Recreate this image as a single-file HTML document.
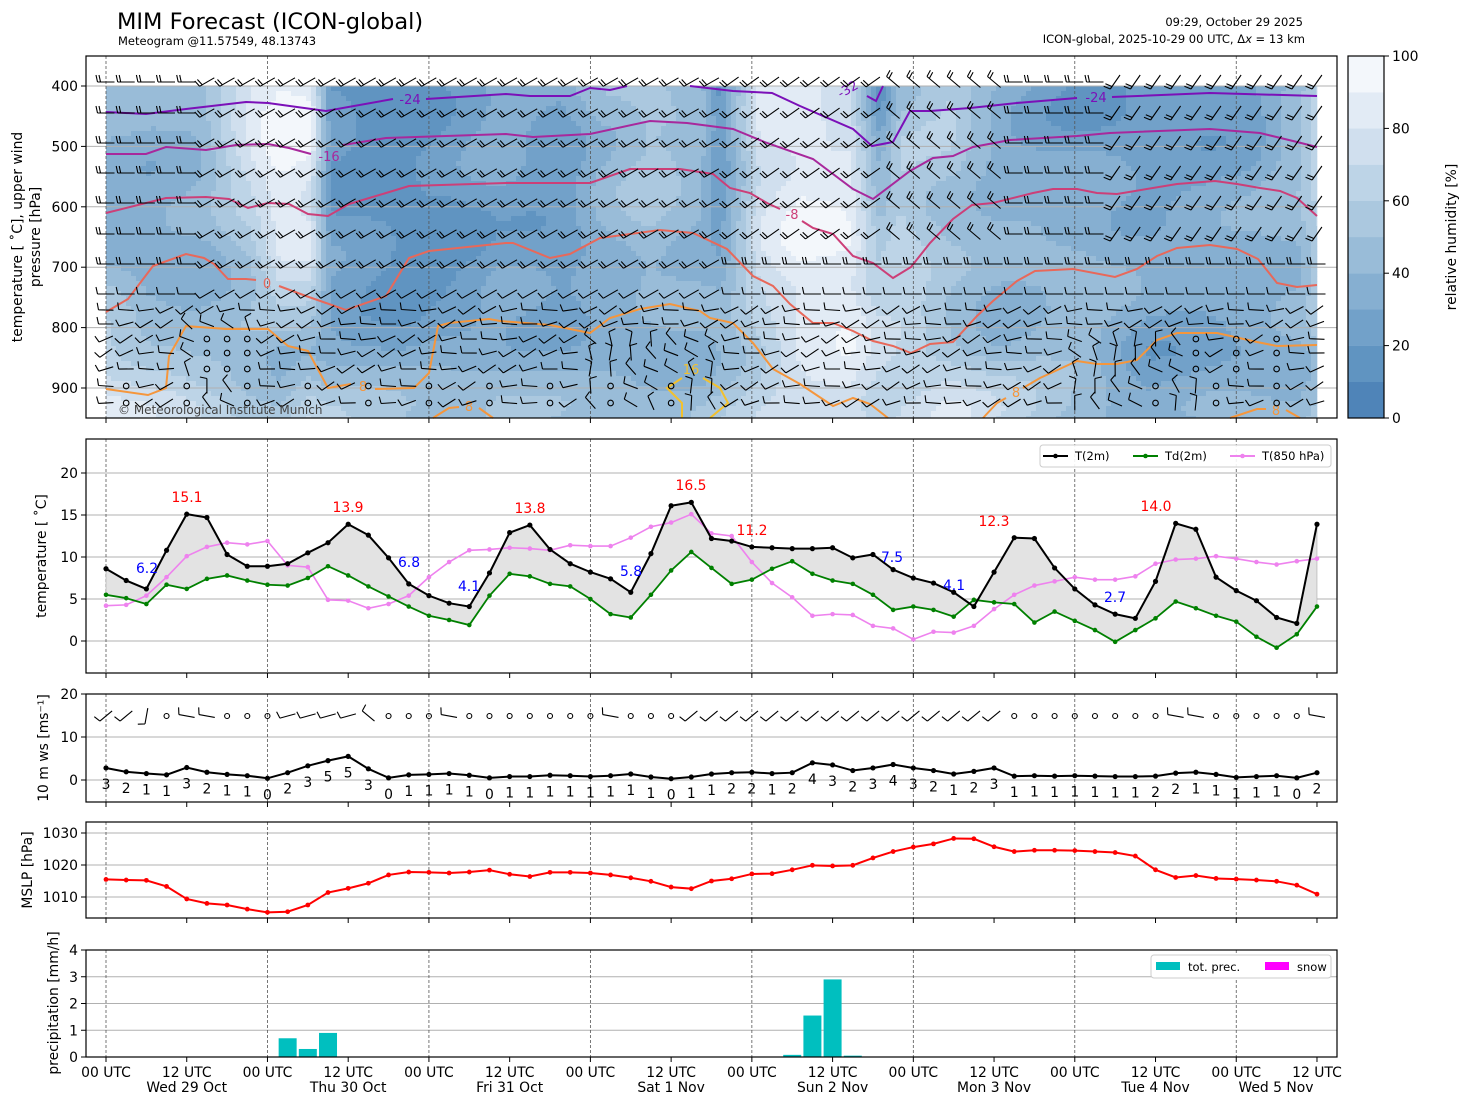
<!DOCTYPE html>
<html><head><meta charset="utf-8">
<style>
html,body{margin:0;padding:0;background:#fff;}
svg{display:block;font-family:"DejaVu Sans","Liberation Sans",sans-serif;}
</style></head>
<body>
<svg id="s" width="1469" height="1105" xmlns="http://www.w3.org/2000/svg">
<rect width="1469" height="1105" fill="#fff"/>
<g id="rh"></g>
<g id="g"></g>
<text x="117" y="29" font-size="22.5">MIM Forecast (ICON-global)</text>
<text x="118" y="45" font-size="11.5">Meteogram @11.57549, 48.13743</text>
<text x="1303" y="26" font-size="11.5" text-anchor="end">09:29, October 29 2025</text>
<text x="1305" y="43" font-size="11.5" text-anchor="end">ICON-global, 2025-10-29 00 UTC, Δ<tspan font-style="italic">x</tspan> = 13 km</text>
</svg>
<script>
var NS="http://www.w3.org/2000/svg";
var G=document.getElementById('g'),RH=document.getElementById('rh');
function el(t,a,p){var e=document.createElementNS(NS,t);for(var k in a)e.setAttribute(k,a[k]);(p||G).appendChild(e);return e;}
function txt(x,y,s,a){a=a||{};a.x=x;a.y=y;var e=el('text',a);e.textContent=s;return e;}
function X(i){return 106+i*20.183;}
var X0=86,X1=1337;
var lev=['#4f84b8','#6094c1','#72a1c9','#86afd1','#99bcd8','#abc8df','#bdd4e7','#d0dfee','#e2ebf5','#f3f7fb'];
var K=[[106,40,35,70,80],[150,40,30,55,75],[200,45,35,45,70],[250,85,55,40,60],[280,95,85,35,55],[310,90,80,40,70],[330,20,25,35,60],[400,15,15,25,55],[450,25,15,30,50],[500,35,25,35,55],[560,25,20,35,45],[600,45,35,35,40],[650,55,50,30,45],[700,45,40,35,50],[720,15,30,45,55],[760,80,75,60,65],[800,85,92,80,75],[850,75,90,85,80],[880,20,60,70,70],[900,50,70,65,75],[950,60,45,55,85],[1000,35,40,40,70],[1080,20,45,45,50],[1150,20,35,25,30],[1250,25,40,30,40],[1300,50,45,35,45],[1317,65,60,45,55]];
function colAt(x){for(var i=0;i<K.length-1;i++){if(x<=K[i+1][0]){var t=(x-K[i][0])/(K[i+1][0]-K[i][0]);return [1,2,3,4].map(function(j){return K[i][j]*(1-t)+K[i+1][j]*t;});}}return K[K.length-1].slice(1);}
function py(p){return 86+(p-400)*0.604;}
var C=5;
for(var x=106;x<1317;x+=C){
  var c=colAt(x+C/2);
  for(var y=86;y<418;y+=C){
    var p=400+(y+C/2-86)/0.604,v;
    if(p<=450)v=c[0];else if(p<=675)v=c[0]+(c[1]-c[0])*(p-450)/225;else if(p<=840)v=c[1]+(c[2]-c[1])*(p-675)/165;else if(p<=930)v=c[2]+(c[3]-c[2])*(p-840)/90;else v=c[3];
    v+=4*Math.sin(x*0.03+y*0.04)+3*Math.sin(x*0.011-y*0.06);
    var q=Math.max(0,Math.min(9,Math.floor(v/10)));
    el('rect',{x:x,y:y,width:Math.min(C,1317-x)+0.3,height:Math.min(C,418-y)+0.3,fill:lev[q]},RH);
  }
}
function frame(y0,y1){el('rect',{x:X0,y:y0,width:X1-X0,height:y1-y0,fill:'none',stroke:'#000','stroke-width':1.2});
 for(var i=0;i<=15;i++){el('line',{x1:X(i*4),x2:X(i*4),y1:y1,y2:y1+5,stroke:'#000'});}}
function hgrid(y){el('line',{x1:X0,x2:X1,y1:y,y2:y,stroke:'#b0b0b0','stroke-width':1});}
function vgrid(y0,y1){for(var d=0;d<8;d++){el('line',{x1:X(d*8),x2:X(d*8),y1:y0,y2:y1,stroke:'#555','stroke-width':0.8,'stroke-dasharray':'3,2'});}}
function ytick(y,s){el('line',{x1:X0-5,x2:X0,y1:y,y2:y,stroke:'#000'});txt(X0-8,y+5,s,{'font-size':13.9,'text-anchor':'end'});}
[400,500,600,700,800,900].forEach(function(p){hgrid(py(p));ytick(py(p),''+p);});
vgrid(56,418);
function pl(pts,col,w){el('polyline',{points:pts.map(function(a){return a.join(',')}).join(' '),fill:'none',stroke:col,'stroke-width':w||2});}
var PUR='#7b10b8',MAG='#a8289c',PNK='#cc3f78',SAL='#e8685a',ORG='#f5963c',YEL='#f2c12e';
pl([[106,112],[146,114],[186,109],[246,102],[268,103],[326,111],[393,99]],PUR);
pl([[426,99],[506,94],[530,96],[570,96],[590,88],[610,90],[627,86]],PUR);
pl([[690,86],[733,91],[772,93],[800,106],[853,129],[872,146],[893,142],[910,111],[930,111],[970,108],[1017,103],[1077,98]],PUR);
pl([[1112,97],[1210,93],[1317,96]],PUR);
pl([[867,96],[876,101],[883,86]],PUR);
txt(410,104,'-24',{'font-size':13,fill:PUR,'text-anchor':'middle'});
txt(1096,102,'-24',{'font-size':13,fill:PUR,'text-anchor':'middle'});
txt(850,93,'-32',{'font-size':13,fill:PUR,'text-anchor':'middle',transform:'rotate(-30 850 93)'});
pl([[106,154],[146,154],[166,147],[206,150],[236,145],[268,144],[289,148],[311,154]],MAG);
pl([[343,145],[386,138],[506,134],[533,137],[590,134],[650,121],[687,123],[733,129],[767,143],[813,159],[853,189],[873,199],[910,171],[933,158],[953,156],[973,147],[1010,140],[1077,136],[1110,133],[1210,129],[1260,133],[1293,141],[1317,147]],MAG);
txt(329,161,'-16',{'font-size':13,fill:MAG,'text-anchor':'middle'});
pl([[106,213],[166,198],[206,197],[229,199],[248,208],[268,203],[289,204],[308,214],[328,216],[349,204],[386,193],[409,186],[506,183],[590,183],[630,169],[680,169],[713,174],[730,188],[750,193],[767,203],[780,209]],PNK);
pl([[802,221],[813,228],[833,234],[853,256],[873,263],[893,278],[911,267],[930,243],[953,219],[972,205],[993,203],[1033,193],[1053,189],[1077,189],[1097,193],[1117,194],[1177,184],[1215,181],[1237,184],[1260,188],[1280,191],[1297,198],[1317,216]],PNK);
txt(792,219,'-8',{'font-size':13,fill:PNK,'text-anchor':'middle'});
pl([[106,312],[128,299],[153,266],[186,254],[204,258],[214,264],[228,279],[246,279],[256,280]],SAL);
pl([[279,286],[306,296],[346,310],[386,296],[409,258],[429,251],[506,243],[513,243],[550,258],[570,254],[600,238],[660,230],[693,233],[727,249],[753,276],[773,286],[790,304],[813,323],[833,323],[853,331],[873,341],[893,346],[911,353],[930,344],[953,342],[977,316],[993,301],[1017,281],[1035,271],[1073,269],[1115,277],[1137,269],[1157,256],[1177,248],[1210,245],[1237,249],[1258,259],[1277,283],[1297,287],[1317,285]],SAL);
txt(267,288,'0',{'font-size':13,fill:SAL,'text-anchor':'middle'});
pl([[106,389],[148,395],[166,388],[169,356],[186,326],[226,329],[268,329],[288,346],[308,351],[328,388],[351,384]],ORG);
pl([[375,389],[414,388],[429,373],[438,326],[449,323],[489,319],[500,321],[550,325],[590,333],[610,318],[640,309],[670,304],[700,311],[710,318],[733,323],[753,343],[773,369],[800,384],[833,406],[853,398],[870,404],[888,418]],ORG);
txt(363,391,'8',{'font-size':13,fill:ORG,'text-anchor':'middle'});
pl([[433,418],[449,408],[459,407]],ORG);pl([[479,408],[493,418]],ORG);
txt(469,411,'8',{'font-size':13,fill:ORG,'text-anchor':'middle'});
pl([[983,418],[997,403],[1006,398]],ORG);
pl([[1023,388],[1040,378],[1077,361],[1097,364],[1117,364],[1137,360],[1157,340],[1177,333],[1217,333],[1257,342],[1277,346],[1317,345]],ORG);
txt(1016,397,'8',{'font-size':13,fill:ORG,'text-anchor':'middle'});
pl([[1230,418],[1257,409],[1266,409]],ORG);pl([[1286,410],[1300,418]],ORG);
txt(1276,415,'8',{'font-size':13,fill:ORG,'text-anchor':'middle'});
pl([[682,378],[667,388],[682,403],[682,418]],YEL);pl([[703,378],[720,388],[728,403],[710,418]],YEL);
txt(691,374,'16',{'font-size':13,fill:YEL,'text-anchor':'middle'});
// barbs: station at (x,y); tail upwind; feathers at tail
function barb(x,y,a,n,len,pr){pr=pr||G;len=len||15;var r=a*Math.PI/180;var dx=-Math.cos(r),dy=Math.sin(r);
 var sx=x+dx*len*0.5,sy=y+dy*len*0.5,ex=x-dx*len*0.5,ey=y-dy*len*0.5;
 var d='M'+ex.toFixed(1)+','+ey.toFixed(1)+'L'+sx.toFixed(1)+','+sy.toFixed(1);
 var px=-dy,py_=dx; if(py_>0||(py_==0&&px>0)){px=-px;py_=-py_;}
 for(var k=0;k<n;k++){var bx=sx-dx*k*3,by=sy-dy*k*3;var fl=7;
  d+='M'+bx.toFixed(1)+','+by.toFixed(1)+'l'+((px*fl+dx*1.5)).toFixed(1)+','+((py_*fl+dy*1.5)).toFixed(1);}
 el('path',{d:d,stroke:'#000','stroke-width':1.1,fill:'none'},pr);}
function circ(x,y,r){el('circle',{cx:x,cy:y,r:r||2.8,fill:'none',stroke:'#000','stroke-width':1.1});}
var rows=[82,113,143,173,203,234,264,294,310,324,339,353,369,386,403];
for(var j=0;j<rows.length;j++){var y=rows[j];
 for(var i=0;i<=60;i++){var x=X(i);
  var a=0,n=j<7?2:1;
  if(x>200&&x<720&&y<300)a=30;
  if(x>720&&x<900&&y<240)a=35;
  if(x>1100&&y<260)a=55;
  if(x>880&&x<1000&&y<250)a=-40;
  if(y>=300){a=15+20*Math.sin(i*0.9+j*1.3);
   if((x>170&&x<260&&y>320)||(x>590&&x<720&&y>330)||(x>1060&&x<1200&&y>330))a=-60+40*Math.sin(i+j);}
  if(y>=380&&(i%3==1)&&(x<700||x>1150)){circ(x,y);continue;}
  if(y>=325&&y<=375&&((x>190&&x<250)||(x>1190&&x<1300&&i%2==0))){circ(x,y);continue;}
  barb(x,y,a,n,y<300?17:15);
 }}
txt(118,414,'© Meteorological Institute Munich',{'font-size':12,fill:'#444'});
frame(56,418);
txt(22,237,'',{'font-size':13.9,'text-anchor':'middle',transform:'rotate(-90 22 237)'}).textContent='temperature [ ˚C], upper wind';
txt(40,237,'pressure [hPa]',{'font-size':13.9,'text-anchor':'middle',transform:'rotate(-90 40 237)'});
for(var q=0;q<10;q++){el('rect',{x:1348,y:418-(q+1)*36.2,width:36,height:36.4,fill:lev[q]});}
el('rect',{x:1348,y:56,width:36,height:362,fill:'none',stroke:'#000','stroke-width':1.2});
for(var q=0;q<=5;q++){var yy=418-q*72.4;el('line',{x1:1384,x2:1389,y1:yy,y2:yy,stroke:'#000'});txt(1392,yy+5,''+q*20,{'font-size':13.9});}
txt(1456,237,'relative humidity [%]',{'font-size':13.9,'text-anchor':'middle',transform:'rotate(-90 1456 237)'});
var T=[8.6,7.2,6.2,10.8,15.1,14.7,10.3,8.9,8.9,9.2,10.5,11.7,13.9,12.6,9.9,6.8,5.4,4.5,4.1,8.1,12.9,13.8,10.9,9.2,8.2,7.4,5.8,10.4,16.1,16.5,12.2,11.9,11.2,11.1,11.0,11.0,11.1,9.9,10.3,8.5,7.5,6.9,5.8,4.1,8.2,12.3,12.2,8.7,6.2,4.3,3.2,2.7,7.1,14.0,13.3,7.6,6.0,4.8,2.8,2.1,13.9];
var TD=[5.5,5.1,4.4,6.7,6.2,7.4,7.8,7.2,6.7,6.6,7.5,8.9,7.8,6.5,5.3,4.1,3.0,2.5,1.9,5.4,8.0,7.7,6.8,6.5,5.0,3.2,2.8,5.5,8.4,10.6,8.7,6.8,7.3,8.6,9.5,8.0,7.2,6.8,5.5,3.7,4.1,3.7,2.9,4.9,4.6,4.4,2.2,3.5,2.4,1.3,-0.1,1.3,2.7,4.7,3.9,3.0,2.3,0.5,-0.8,0.8,4.1];
var T8=[4.2,4.3,5.4,7.6,10.1,11.2,11.7,11.5,11.9,9.0,8.8,4.9,4.8,3.9,4.4,5.4,7.6,9.4,10.8,10.9,11.1,11.0,10.8,11.4,11.3,11.3,12.3,13.6,14.1,15.1,12.8,12.5,9.4,6.9,5.2,3.0,3.2,3.1,1.8,1.5,0.2,1.1,1.0,1.8,3.8,5.5,6.6,7.1,7.6,7.3,7.3,7.7,9.2,9.7,9.8,10.1,9.8,9.4,9.1,9.5,9.8];
function yT(v){return 641-v*8.4;}
[0,5,10,15,20].forEach(function(v){hgrid(yT(v));ytick(yT(v),''+v);});
vgrid(439,673);
var fp=T.map(function(v,i){return X(i)+','+yT(v)}).concat(TD.map(function(v,i){return X(i)+','+yT(v)}).reverse());
el('polygon',{points:fp.join(' '),fill:'#e3e3e3',stroke:'#aaa','stroke-width':0.6});
function series(arr,f,col,w,r){el('polyline',{points:arr.map(function(v,i){return X(i)+','+f(v)}).join(' '),fill:'none',stroke:col,'stroke-width':w});
 arr.forEach(function(v,i){el('circle',{cx:X(i),cy:f(v),r:r,fill:col});});}
series(T8,yT,'#ee82ee',1.6,2.3);series(TD,yT,'#008000',1.8,2.3);series(T,yT,'#000',2,2.6);
[[187,497,'15.1'],[348,507,'13.9'],[530,508,'13.8'],[691,485,'16.5'],[752,530,'11.2'],[994,521,'12.3'],[1156,506,'14.0']].forEach(function(a){txt(a[0],a[1]+5,a[2],{'font-size':13.9,fill:'red','text-anchor':'middle'});});
[[147,568,'6.2'],[409,562,'6.8'],[469,586,'4.1'],[631,571,'5.8'],[892,557,'7.5'],[954,585,'4.1'],[1115,597,'2.7']].forEach(function(a){txt(a[0],a[1]+5,a[2],{'font-size':13.9,fill:'blue','text-anchor':'middle'});});
el('rect',{x:1040,y:445,width:291,height:22,rx:3,fill:'#fff',stroke:'#ccc','fill-opacity':0.9});
[[1043,'#000','T(2m)'],[1133,'#008000','Td(2m)'],[1230,'#ee82ee','T(850 hPa)']].forEach(function(a){el('line',{x1:a[0],x2:a[0]+25,y1:456,y2:456,stroke:a[1],'stroke-width':2});el('circle',{cx:a[0]+12.5,cy:456,r:2.3,fill:a[1]});txt(a[0]+32,460,a[2],{'font-size':11.5});});
txt(46,556,'temperature [ ˚C]',{'font-size':13.9,'text-anchor':'middle',transform:'rotate(-90 46 556)'});
frame(439,673);
var WS=[2.8,1.9,1.5,1.2,2.9,1.8,1.3,1.0,0.4,1.7,3.3,4.5,5.5,2.6,0.5,1.2,1.3,1.5,1.1,0.5,0.8,0.8,1.1,1.0,0.8,1.0,1.4,0.7,0.3,0.7,1.4,1.7,1.8,1.5,1.7,4.0,3.5,2.2,2.8,3.6,2.8,2.2,1.4,2.0,2.8,0.9,1.0,0.9,1.0,0.9,0.8,0.8,0.9,1.6,1.8,1.3,0.6,0.8,1.0,0.5,1.7];
var WL="3 2 1 1 3 2 1 1 0 2 3 5 5 3 0 1 1 1 1 0 1 1 1 1 1 1 1 1 0 1 1 2 2 1 2 4 3 2 3 4 3 2 1 2 3 1 1 1 1 1 1 1 2 2 1 1 1 1 1 0 2".split(' ');
function yW(v){return 780-v*4.3;}
[0,10,20].forEach(function(v){hgrid(yW(v));ytick(yW(v),''+v);});
vgrid(694,802);
series(WS,yW,'#000',2,2.6);
WS.forEach(function(v,i){txt(X(i),yW(v)+21,WL[i],{'font-size':13.9,'text-anchor':'middle'});});
var calm=[3,6,7,8,14,15,16,18,19,20,21,22,23,24,26,27,28,45,46,47,48,49,50,51,52,55,56,57,58,59];
for(var i=0;i<=60;i++){var x=X(i);if(calm.indexOf(i)>=0){circ(x,716,2.5);continue;}
 var a=i<3?40:(i>=29&&i<45?40:(i>=9&&i<13?15:-10));if(i==2)a=80;if(i==13)a=-40;
 barb(x,716,a,1,16);}
txt(48,748,'10 m ws [ms⁻¹]',{'font-size':13.9,'text-anchor':'middle',transform:'rotate(-90 48 748)'});
frame(694,802);
var P=[1015.5,1015.3,1015.2,1013.3,1009.4,1008.0,1007.5,1006.2,1005.2,1005.4,1007.5,1011.4,1012.7,1014.3,1016.9,1017.8,1017.7,1017.5,1017.8,1018.4,1017.1,1016.4,1017.7,1017.7,1017.5,1016.9,1016.0,1014.9,1013.1,1012.6,1015.0,1015.7,1017.2,1017.3,1018.5,1019.9,1019.7,1019.9,1022.2,1024.2,1025.6,1026.6,1028.3,1028.2,1025.7,1024.2,1024.6,1024.6,1024.5,1024.2,1023.9,1022.8,1018.5,1016.1,1016.7,1015.8,1015.6,1015.3,1014.9,1013.7,1010.9];
function yP(v){return 865-(v-1020)*3.2;}
[1010,1020,1030].forEach(function(v){hgrid(yP(v));ytick(yP(v),''+v);});
vgrid(822,918);
series(P,yP,'red',2,2.4);
txt(32,870,'MSLP [hPa]',{'font-size':13.9,'text-anchor':'middle',transform:'rotate(-90 32 870)'});
frame(822,918);
function yR(v){return 1057-v*26.75;}
[0,1,2,3,4].forEach(function(v){hgrid(yR(v));ytick(yR(v),''+v);});
vgrid(950,1057);
[[9,0.7],[10,0.3],[11,0.9],[34,0.08],[35,1.55],[36,2.9],[37,0.05]].forEach(function(a){var y=yR(a[1]);el('rect',{x:X(a[0])-9,y:y,width:18,height:1057-y,fill:'#00bfbf'});});
el('rect',{x:1151,y:955,width:180,height:23,rx:3,fill:'#fff',stroke:'#ccc'});
el('rect',{x:1156,y:962,width:24,height:8,fill:'#00bfbf'});txt(1188,971,'tot. prec.',{'font-size':11.5});
el('rect',{x:1265,y:962,width:24,height:8,fill:'#ff00ff'});txt(1297,971,'snow',{'font-size':11.5});
txt(58,1003,'precipitation [mm/h]',{'font-size':13.9,'text-anchor':'middle',transform:'rotate(-90 58 1003)'});
frame(950,1057);
var days=['Wed 29 Oct','Thu 30 Oct','Fri 31 Oct','Sat 1 Nov','Sun 2 Nov','Mon 3 Nov','Tue 4 Nov','Wed 5 Nov'];
for(var i=0;i<=15;i++){txt(X(i*4),1077,i%2?'12 UTC':'00 UTC',{'font-size':13.9,'text-anchor':'middle'});if(i%2){var dx=(i==15)?1276:X(i*4);txt(dx,1092,days[(i-1)/2],{'font-size':13.9,'text-anchor':'middle'});}}
</script>
</body></html>
